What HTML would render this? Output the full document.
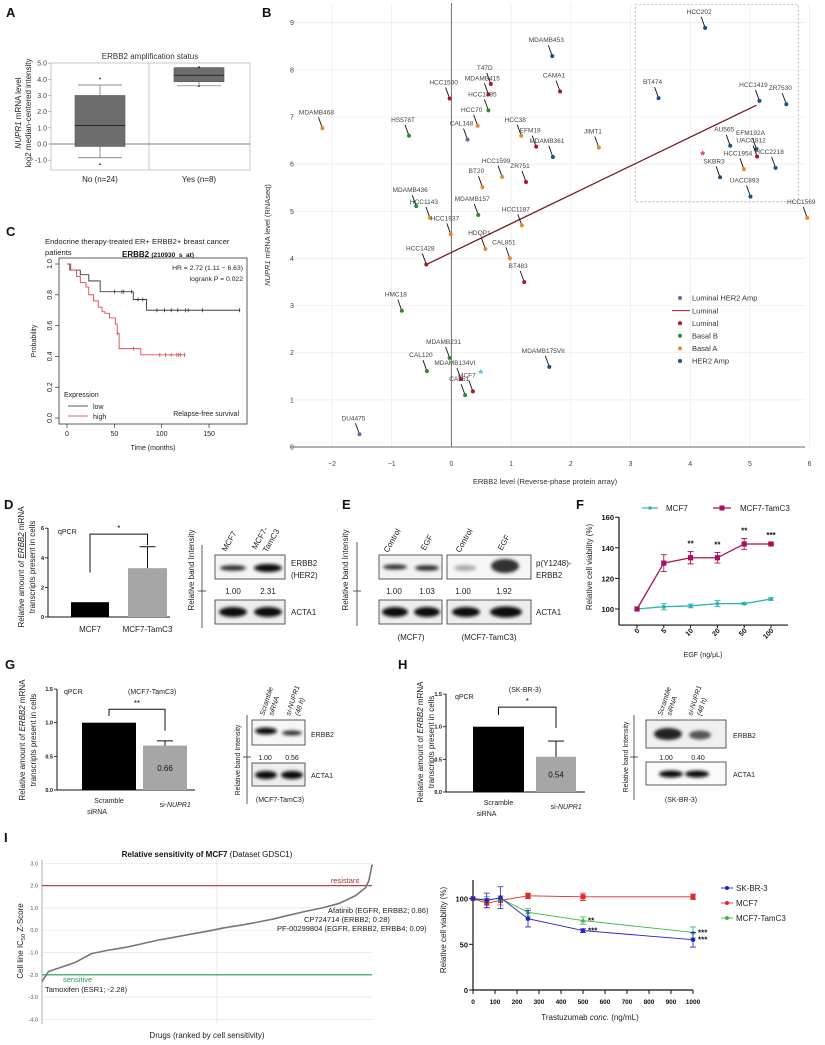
<!DOCTYPE html>
<html><head><meta charset="utf-8"><style>
html,body{margin:0;padding:0;background:#fff;}
svg{display:block;font-family:"Liberation Sans",sans-serif;}
.lbl{font-size:6.5px;fill:#444;text-anchor:middle;}
.tk{font-size:7px;fill:#444;}
.pl{font-size:13px;font-weight:bold;fill:#111;}
.s8{font-size:8px;fill:#222;}
.s7{font-size:7px;fill:#222;}
</style></head><body>
<svg id="fig" width="825" height="1045" viewBox="0 0 825 1045">
<defs><filter id="blur" x="-30%" y="-80%" width="160%" height="260%"><feGaussianBlur stdDeviation="1.6"/></filter></defs>

<!-- Panel labels -->
<text class="pl" x="6" y="17">A</text>
<text class="pl" x="262" y="17">B</text>
<text class="pl" x="6" y="236">C</text>
<text class="pl" x="4" y="509">D</text>
<text class="pl" x="342" y="509">E</text>
<text class="pl" x="576" y="509">F</text>
<text class="pl" x="5" y="669">G</text>
<text class="pl" x="398" y="669">H</text>
<text class="pl" x="4" y="842">I</text>

<!-- Panel A static -->
<text x="150" y="59" text-anchor="middle" style="font-size:8px;fill:#333">ERBB2 amplification status</text>
<rect x="51" y="63" width="199" height="107" fill="none" stroke="#bbb" stroke-width="0.8"/>
<line x1="149" y1="63" x2="149" y2="170" stroke="#bbb" stroke-width="0.8"/>
<text transform="translate(21,113) rotate(-90)" text-anchor="middle" style="font-size:8px;fill:#222"><tspan font-style="italic">NUPR1</tspan> mRNA level</text>
<text transform="translate(31,113) rotate(-90)" text-anchor="middle" style="font-size:8px;fill:#222">log2 median-centered intensity</text>
<g id="gA"></g>

<!-- Panel C static -->
<text x="45" y="244" style="font-size:7.6px;fill:#222">Endocrine therapy-treated ER+ ERBB2+ breast cancer</text>
<text x="45" y="255" style="font-size:7.6px;fill:#222">patients</text>
<text x="122" y="257" style="font-size:8px;font-weight:bold;fill:#111">ERBB2 <tspan style="font-size:6.5px">(210930_s_at)</tspan></text>
<rect x="59" y="258" width="188" height="166" fill="none" stroke="#333" stroke-width="0.8"/>
<text x="243" y="270" text-anchor="end" style="font-size:6.8px;fill:#222">HR = 2.72 (1.11 − 6.63)</text>
<text x="243" y="281" text-anchor="end" style="font-size:6.8px;fill:#222">logrank P = 0.022</text>
<text x="64" y="397" style="font-size:7px;fill:#222">Expression</text>
<line x1="68" y1="406" x2="88" y2="406" stroke="#222" stroke-width="0.8"/>
<text x="93" y="409" style="font-size:7px;fill:#222">low</text>
<line x1="68" y1="416" x2="88" y2="416" stroke="#e03030" stroke-width="0.8"/>
<text x="93" y="419" style="font-size:7px;fill:#222">high</text>
<text x="239" y="416" text-anchor="end" style="font-size:7px;fill:#222">Relapse-free survival</text>
<text transform="translate(36,341) rotate(-90)" text-anchor="middle" style="font-size:7px;fill:#222">Probability</text>
<text x="153" y="450" text-anchor="middle" style="font-size:7px;fill:#222">Time (months)</text>
<g id="gC"></g>

<!-- Panel B static -->
<g id="gB"></g>
<text transform="translate(270,235) rotate(-90)" text-anchor="middle" style="font-size:7.5px;fill:#333"><tspan font-style="italic">NUPR1</tspan> mRNA level (RNAseq)</text>
<text x="545" y="484" text-anchor="middle" style="font-size:7.5px;fill:#333">ERBB2 level (Reverse-phase protein array)</text>

<!-- Panel D static -->
<text transform="translate(24,567) rotate(-90)" text-anchor="middle" class="s8">Relative amount of <tspan font-style="italic" text-decoration="underline">ERBB2</tspan> mRNA</text>
<text transform="translate(35,567) rotate(-90)" text-anchor="middle" class="s8">transcripts present in cells</text>
<text x="58" y="534" class="s7">qPCR</text>
<g id="gD"></g>
<!-- D blot -->
<text transform="translate(194,570) rotate(-90)" text-anchor="middle" class="s8">Relative band Intensity</text>
<line x1="202" y1="545" x2="202" y2="628" stroke="#333" stroke-width="0.8"/>
<line x1="198" y1="591" x2="206" y2="591" stroke="#333" stroke-width="0.8"/>
<text transform="translate(226,552) rotate(-60)" class="s8">MCF7</text>
<text transform="translate(256,550) rotate(-60)" class="s8">MCF7-</text>
<text transform="translate(267,553) rotate(-60)" class="s8">TamC3</text>
<rect x="215" y="555" width="70" height="24" fill="#f4f4f4" stroke="#333" stroke-width="0.8"/>
<ellipse cx="233" cy="568" rx="13" ry="2.8" fill="#333" filter="url(#blur)"/>
<ellipse cx="268" cy="568" rx="14" ry="4" fill="#111" filter="url(#blur)"/>
<text x="233" y="594" text-anchor="middle" class="s8">1.00</text>
<text x="268" y="594" text-anchor="middle" class="s8">2.31</text>
<rect x="215" y="600" width="70" height="24" fill="#eee" stroke="#333" stroke-width="0.8"/>
<ellipse cx="233" cy="612" rx="14" ry="5" fill="#111" filter="url(#blur)"/>
<ellipse cx="268" cy="612" rx="14" ry="5" fill="#111" filter="url(#blur)"/>
<text x="291" y="566" class="s8">ERBB2</text>
<text x="291" y="578" class="s8">(HER2)</text>
<text x="291" y="615" class="s8">ACTA1</text>

<!-- Panel E -->
<text transform="translate(348,570) rotate(-90)" text-anchor="middle" class="s8">Relative band Intensity</text>
<line x1="357" y1="542" x2="357" y2="626" stroke="#333" stroke-width="0.8"/>
<line x1="353" y1="591" x2="361" y2="591" stroke="#333" stroke-width="0.8"/>
<text transform="translate(388,553) rotate(-60)" class="s8">Control</text>
<text transform="translate(425,551) rotate(-60)" class="s8">EGF</text>
<text transform="translate(460,553) rotate(-60)" class="s8">Control</text>
<text transform="translate(502,551) rotate(-60)" class="s8">EGF</text>
<rect x="379" y="555" width="63" height="24" fill="#f2f2f2" stroke="#333" stroke-width="0.8"/>
<ellipse cx="395" cy="567" rx="12" ry="2.6" fill="#333" filter="url(#blur)"/>
<ellipse cx="427" cy="568" rx="12" ry="2.8" fill="#333" filter="url(#blur)"/>
<rect x="447" y="555" width="84" height="24" fill="#f6f6f6" stroke="#333" stroke-width="0.8"/>
<ellipse cx="465" cy="568" rx="11" ry="3" fill="#aaa" filter="url(#blur)"/>
<ellipse cx="505" cy="566" rx="14" ry="7" fill="#333" filter="url(#blur)"/>
<text x="394" y="594" text-anchor="middle" class="s8">1.00</text>
<text x="427" y="594" text-anchor="middle" class="s8">1.03</text>
<text x="463" y="594" text-anchor="middle" class="s8">1.00</text>
<text x="504" y="594" text-anchor="middle" class="s8">1.92</text>
<rect x="379" y="600" width="63" height="24" fill="#eee" stroke="#333" stroke-width="0.8"/>
<ellipse cx="395" cy="612" rx="13" ry="5" fill="#111" filter="url(#blur)"/>
<ellipse cx="427" cy="612" rx="13" ry="5" fill="#111" filter="url(#blur)"/>
<rect x="447" y="600" width="84" height="24" fill="#eee" stroke="#333" stroke-width="0.8"/>
<ellipse cx="466" cy="612" rx="14" ry="5" fill="#111" filter="url(#blur)"/>
<ellipse cx="506" cy="612" rx="16" ry="5.5" fill="#111" filter="url(#blur)"/>
<text x="536" y="566" class="s8">p(Y1248)-</text>
<text x="536" y="578" class="s8">ERBB2</text>
<text x="536" y="615" class="s8">ACTA1</text>
<text x="411" y="640" text-anchor="middle" class="s8">(MCF7)</text>
<text x="489" y="640" text-anchor="middle" class="s8">(MCF7-TamC3)</text>

<!-- Panel F -->
<g id="gF"></g>
<text transform="translate(592,567) rotate(-90)" text-anchor="middle" class="s8">Relative cell viability (%)</text>
<text x="703" y="657" text-anchor="middle" class="s7">EGF (ng/μL)</text>
<line x1="642" y1="508" x2="658" y2="508" stroke="#2bb5b0" stroke-width="1.2"/>
<circle cx="650" cy="508" r="1.8" fill="#2bb5b0"/>
<text x="666" y="511" class="s8">MCF7</text>
<line x1="713" y1="508" x2="731" y2="508" stroke="#a8125a" stroke-width="1.2"/>
<rect x="719.5" y="505.5" width="5" height="5" fill="#a8125a"/>
<text x="740" y="511" class="s8">MCF7-TamC3</text>

<!-- Panel G -->
<text transform="translate(25,740) rotate(-90)" text-anchor="middle" class="s8">Relative amount of <tspan font-style="italic">ERBB2</tspan> mRNA</text>
<text transform="translate(36,740) rotate(-90)" text-anchor="middle" class="s8">transcripts present in cells</text>
<text x="64" y="694" class="s7">qPCR</text>
<text x="128" y="694" class="s7">(MCF7-TamC3)</text>
<g id="gG"></g>
<text transform="translate(240,760) rotate(-90)" text-anchor="middle" class="s7">Relative band Intensity</text>
<line x1="247" y1="715" x2="247" y2="804" stroke="#333" stroke-width="0.8"/>
<line x1="243" y1="757" x2="251" y2="757" stroke="#333" stroke-width="0.8"/>
<text transform="translate(264,716) rotate(-72)" class="s7" font-style="italic">Scramble</text>
<text transform="translate(273,716) rotate(-72)" class="s7" font-style="italic">siRNA</text>
<text transform="translate(290,716) rotate(-72)" class="s7" font-style="italic">si-NUPR1</text>
<text transform="translate(299,716) rotate(-72)" class="s7" font-style="italic">(48 h)</text>
<rect x="252" y="720" width="53" height="25" fill="#f6f6f6" stroke="#333" stroke-width="0.8"/>
<ellipse cx="266" cy="731" rx="11" ry="3.5" fill="#111" filter="url(#blur)"/>
<ellipse cx="292" cy="733" rx="10" ry="2.5" fill="#333" filter="url(#blur)"/>
<text x="265" y="760" text-anchor="middle" class="s7">1.00</text>
<text x="292" y="760" text-anchor="middle" class="s7">0.56</text>
<rect x="252" y="763" width="53" height="23" fill="#eee" stroke="#333" stroke-width="0.8"/>
<ellipse cx="266" cy="775" rx="11" ry="4" fill="#111" filter="url(#blur)"/>
<ellipse cx="292" cy="775" rx="11" ry="4" fill="#111" filter="url(#blur)"/>
<text x="311" y="737" class="s7">ERBB2</text>
<text x="311" y="778" class="s7">ACTA1</text>
<text x="280" y="802" text-anchor="middle" class="s7">(MCF7-TamC3)</text>

<!-- Panel H -->
<text transform="translate(423,742) rotate(-90)" text-anchor="middle" class="s8">Relative amount of <tspan font-style="italic">ERBB2</tspan> mRNA</text>
<text transform="translate(434,742) rotate(-90)" text-anchor="middle" class="s8">transcripts present in cells</text>
<text x="455" y="699" class="s7">qPCR</text>
<text x="525" y="692" text-anchor="middle" class="s7">(SK-BR-3)</text>
<g id="gH"></g>
<text transform="translate(628,757) rotate(-90)" text-anchor="middle" class="s7">Relative band Intensity</text>
<line x1="634" y1="715" x2="634" y2="800" stroke="#333" stroke-width="0.8"/>
<line x1="630" y1="757" x2="638" y2="757" stroke="#333" stroke-width="0.8"/>
<text transform="translate(662,716) rotate(-72)" class="s7" font-style="italic">Scramble</text>
<text transform="translate(671,716) rotate(-72)" class="s7" font-style="italic">siRNA</text>
<text transform="translate(692,716) rotate(-72)" class="s7" font-style="italic">si-NUPR1</text>
<text transform="translate(701,716) rotate(-72)" class="s7" font-style="italic">(48 h)</text>
<rect x="646" y="720" width="80" height="28" fill="#f0f0f0" stroke="#333" stroke-width="0.8"/>
<ellipse cx="668" cy="734" rx="14" ry="6" fill="#222" filter="url(#blur)"/>
<ellipse cx="700" cy="735" rx="11" ry="4.5" fill="#555" filter="url(#blur)"/>
<text x="666" y="760" text-anchor="middle" class="s7">1.00</text>
<text x="698" y="760" text-anchor="middle" class="s7">0.40</text>
<rect x="646" y="762" width="80" height="23" fill="#fafafa" stroke="#333" stroke-width="0.8"/>
<ellipse cx="671" cy="774" rx="12" ry="3.5" fill="#111" filter="url(#blur)"/>
<ellipse cx="697" cy="774" rx="12" ry="3.5" fill="#111" filter="url(#blur)"/>
<text x="733" y="738" class="s7">ERBB2</text>
<text x="733" y="777" class="s7">ACTA1</text>
<text x="681" y="802" text-anchor="middle" class="s7">(SK-BR-3)</text>

<!-- Panel I left -->
<text x="207" y="857" text-anchor="middle" style="font-size:8px;fill:#111"><tspan font-weight="bold">Relative sensitivity of MCF7</tspan>  (Dataset GDSC1)</text>
<g id="gI"></g>
<text transform="translate(23,941) rotate(-90)" text-anchor="middle" class="s8">Cell line IC<tspan style="font-size:5.5px" dy="2">50</tspan><tspan dy="-2"> Z-Score</tspan></text>
<text x="207" y="1038" text-anchor="middle" class="s8">Drugs (ranked by cell sensitivity)</text>
<text x="345" y="883" text-anchor="middle" style="font-size:7.5px;fill:#b03030">resistant</text>
<text x="63" y="982" style="font-size:7.5px;fill:#2aa05a">sensitive</text>
<text x="45" y="992" style="font-size:7.5px;fill:#222">Tamoxifen (ESR1; -2.28)</text>
<text x="328" y="913" style="font-size:7.5px;fill:#222">Afatinib (EGFR, ERBB2; 0.86)</text>
<text x="304" y="922" style="font-size:7.5px;fill:#222">CP724714 (ERBB2; 0.28)</text>
<text x="277" y="931" style="font-size:7.5px;fill:#222">PF-00299804 (EGFR, ERBB2, ERBB4; 0.09)</text>

<!-- Panel I right -->
<g id="gT"></g>
<text transform="translate(446,930) rotate(-90)" text-anchor="middle" class="s8">Relative cell viability (%)</text>
<text x="590" y="1020" text-anchor="middle" class="s8">Trastuzumab <tspan font-style="italic">conc.</tspan> (ng/mL)</text>
</svg>

<script>
// ---------- DATA ----------
// Panel A (box plot)
const boxCats = ['No (n=24)', 'Yes (n=8)'];
const boxQ1 = [-0.15, 3.85];
const boxMed = [1.15, 4.25];
const boxQ3 = [3.0, 4.72];
const boxLo = [-0.85, 3.6];
const boxHi = [3.65, 4.72];
const boxOutHi = [4.05, 4.75];
const boxOutLo = [-1.25, 3.58];
const boxTicks = [5, 4, 3, 2, 1, 0, -1];

// Panel C (Kaplan-Meier)
const kmLowT = [0, 3, 14, 23, 35, 70, 84, 183];
const kmLowS = [1.0, 0.96, 0.93, 0.89, 0.82, 0.77, 0.70, 0.70];
const kmLowCens = [50, 58, 60, 68, 75, 80, 95, 103, 110, 117, 125, 128, 143, 182];
const kmHighT = [0, 4, 10, 14, 20, 23, 28, 33, 37, 40, 45, 51, 53, 55, 78, 125];
const kmHighS = [1.0, 0.96, 0.92, 0.88, 0.85, 0.80, 0.76, 0.72, 0.69, 0.68, 0.65, 0.61, 0.55, 0.45, 0.41, 0.41];
const kmHighCens = [53, 70, 98, 104, 110, 116, 118, 120, 124];
const kmXTicks = [0, 50, 100, 150];
const kmYTicks = [0, 0.2, 0.4, 0.6, 0.8, 1.0];

// Panel B (scatter)
const cellLines = ['HCC202','MDAMB453','T47D','MDAMB415','CAMA1','HCC1500','HCC1395','MDAMB468','HS578T','HCC70','CAL148','HCC38','EFM19','MDAMB361','JIMT1','BT474','HCC1419','ZR7530','AU565','EFM192A','UACC812','HCC2218','HCC1954','SKBR3','UACC893','HCC1569','HCC1599','ZR751','BT20','MDAMB436','HCC1143','MDAMB157','HCC1937','HCC1187','HDQP1','CAL851','HCC1428','BT483','HMC18','MDAMB231','CAL120','MDAMB134VI','CAL51','MCF7','MDAMB175VII','DU4475'];
const erbb2Vals = [4.25,1.69,0.66,0.62,1.82,-0.03,0.62,-2.16,-0.71,0.44,0.27,1.17,1.42,1.70,2.47,3.47,5.16,5.61,4.67,5.11,5.12,5.43,4.90,4.50,5.01,5.96,0.85,1.25,0.52,-0.59,-0.36,0.45,-0.01,1.18,0.57,0.98,-0.42,1.22,-0.83,-0.03,-0.41,0.16,0.23,0.36,1.64,-1.54];
const nuprVals = [8.89,8.29,7.70,7.48,7.54,7.39,7.14,6.76,6.60,6.81,6.52,6.60,6.37,6.15,6.35,7.40,7.34,7.27,6.39,6.32,6.16,5.92,5.89,5.72,5.31,4.86,5.73,5.62,5.51,5.11,4.86,4.92,4.51,4.70,4.20,4.00,3.87,3.50,2.89,1.89,1.61,1.44,1.10,1.18,1.70,0.27];
const subtypes = ['H','H','L','L','L','L','B','A','B','A','P','A','L','H','A','H','H','H','H','H','L','H','A','H','H','A','A','L','A','B','A','B','A','A','A','A','L','L','B','B','B','L','B','L','H','P'];
const regX = [-0.42, 5.11];
const regY = [3.87, 7.25];
const starsX = [4.21, 0.49];
const starsY = [6.18, 1.55];
const bXTicks = [-2,-1,0,1,2,3,4,5,6];
const bYTicks = [0,1,2,3,4,5,6,7,8,9];
const legendNames = ['Luminal HER2 Amp','Luminal','Luminal','Basal B','Basal A','HER2 Amp'];

// Panel D
const dCats = ['MCF7', 'MCF7-TamC3'];
const dVals = [1.0, 3.3];
const dErr = [0, 1.45];
const dTicks = [0, 2, 4, 6];

// Panel F
const fDoses = ['0','5','10','20','50','100'];
const fMcf7 = [100, 101.5, 102, 103.5, 103.5, 106.5];
const fMcf7Err = [0, 2, 1.2, 2, 0.5, 0.8];
const fTam = [100, 130, 133.5, 133.5, 142.5, 142.5];
const fTamErr = [0, 5.5, 4, 3.5, 3.5, 0.5];
const fStars = ['', '', '**', '**', '**', '***'];
const fTicks = [100, 120, 140, 160];

// Panel G / H
const ghCats = ['Scramble siRNA', 'si-NUPR1'];
const gVals = [1.0, 0.66];
const gErr = [0, 0.07];
const hVals = [1.0, 0.54];
const hErr = [0, 0.24];
const ghTicks = [0, 0.5, 1.0, 1.5];

// Panel I left
const iRank = [0, 0.02, 0.05, 0.1, 0.15, 0.2, 0.25, 0.3, 0.35, 0.4, 0.45, 0.5, 0.55, 0.6, 0.65, 0.7, 0.75, 0.8, 0.85, 0.9, 0.95, 0.98, 0.99, 1.0];
const iZ = [-2.3, -1.85, -1.7, -1.45, -1.05, -0.9, -0.78, -0.62, -0.45, -0.32, -0.18, -0.05, 0.1, 0.22, 0.35, 0.5, 0.68, 0.85, 1.0, 1.2, 1.55, 1.9, 2.2, 2.9];
const iTicks = [3, 2, 1, 0, -1, -2, -3, -4];

// Panel I right
const tConc = [0, 62.5, 125, 250, 500, 1000];
const tSkbr3 = [100, 98, 101, 78, 65, 55];
const tSkbr3Err = [0, 8, 12, 9, 2, 8];
const tMcf7 = [100, 95, 98, 103, 102, 102];
const tMcf7Err = [0, 5, 5, 3, 4, 3];
const tTam = [100, 99, 100, 85, 76, 63];
const tTamErr = [0, 3, 3, 4, 4, 6];
const tXTicks = [0,100,200,300,400,500,600,700,800,900,1000];
const tYTicks = [0, 50, 100];

// ---------- HELPERS ----------
const NS = 'http://www.w3.org/2000/svg';
function mk(tag, attrs, parent) {
  const e = document.createElementNS(NS, tag);
  for (const k in attrs) e.setAttribute(k, attrs[k]);
  parent.appendChild(e);
  return e;
}
function txt(parent, x, y, s, attrs) {
  const a = Object.assign({x: x, y: y}, attrs || {});
  const t = mk('text', a, parent);
  t.textContent = s;
  return t;
}

// ---------- PANEL A ----------
(function(){
  const g = document.getElementById('gA');
  const yA = v => 144 - v * 16.17;
  const cx = [100, 199];
  boxTicks.forEach(v => {
    const t = txt(g, 47, yA(v) + 2.5, v.toFixed(1), {'text-anchor':'end', style:'font-size:7px;fill:#444'});
    
    
    const l = mk('line', {x1:48, x2:51, y1:yA(v), y2:yA(v), stroke:'#999', 'stroke-width':0.6}, g);
    
    
  });
  const zl = mk('line', {x1:51, x2:250, y1:yA(0), y2:yA(0), stroke:'#555', 'stroke-width':0.8}, g);
  
  
  boxCats.forEach((c, i) => {
    const w = i === 0 ? 25 : 25;
    const wl = mk('line', {x1:cx[i], x2:cx[i], y1:yA(boxHi[i]), y2:yA(boxLo[i]), stroke:'#666', 'stroke-width':0.7}, g);
    
    
    [boxHi[i], boxLo[i]].forEach(v => {
      const cap = mk('line', {x1:cx[i]-22, x2:cx[i]+22, y1:yA(v), y2:yA(v), stroke:'#666', 'stroke-width':0.7}, g);
      
      
    });
    const r = mk('rect', {x:cx[i]-w, y:yA(boxQ3[i]), width:2*w, height:yA(boxQ1[i])-yA(boxQ3[i]), fill:'#6d6d6d', stroke:'#555', 'stroke-width':0.6}, g);
    
    
    const m = mk('line', {x1:cx[i]-w, x2:cx[i]+w, y1:yA(boxMed[i]), y2:yA(boxMed[i]), stroke:'#222', 'stroke-width':0.9}, g);
    
    
    [boxOutHi[i], boxOutLo[i]].forEach(v => {
      const o = mk('circle', {cx:cx[i], cy:yA(v), r:0.9, fill:'#222'}, g);
      
      
    });
    const t = txt(g, cx[i], 182, c, {'text-anchor':'middle', style:'font-size:8px;fill:#222'});
    
    
  });
})();

// ---------- PANEL C ----------
(function(){
  const g = document.getElementById('gC');
  const xC = t => 67 + t * 0.947;
  const yC = s => 418 - s * 154;
  kmXTicks.forEach(v => {
    const l = mk('line', {x1:xC(v), x2:xC(v), y1:424, y2:428, stroke:'#333', 'stroke-width':0.7}, g);
    
    
    const t = txt(g, xC(v), 436, String(v), {'text-anchor':'middle', style:'font-size:7px;fill:#222'});
    
    
  });
  kmYTicks.forEach(v => {
    const l = mk('line', {x1:55, x2:59, y1:yC(v), y2:yC(v), stroke:'#333', 'stroke-width':0.7}, g);
    
    
    const t = txt(g, 0, 0, v.toFixed(1), {'text-anchor':'middle', transform:'translate(52,' + yC(v) + ') rotate(-90)', style:'font-size:7px;fill:#222'});
    
    
  });
  function step(T, S, endT) {
    let d = 'M' + xC(T[0]) + ',' + yC(S[0]);
    for (let i = 1; i < T.length; i++) {
      d += ' H' + xC(T[i]) + ' V' + yC(S[i]);
    }
    return d;
  }
  const lowP = mk('path', {d:step(kmLowT, kmLowS), fill:'none', stroke:'#222', 'stroke-width':0.8}, g);
  
  
  const highP = mk('path', {d:step(kmHighT, kmHighS), fill:'none', stroke:'#e03030', 'stroke-width':0.8}, g);
  
  
  function survAt(T, S, t) { let s = S[0]; for (let i = 0; i < T.length; i++) if (T[i] <= t) s = S[i]; return s; }
  kmLowCens.forEach(t => {
    const c = mk('line', {x1:xC(t), x2:xC(t), y1:yC(survAt(kmLowT, kmLowS, t))-2, y2:yC(survAt(kmLowT, kmLowS, t))+2, stroke:'#222', 'stroke-width':0.7}, g);
    
    
  });
  kmHighCens.forEach(t => {
    const c = mk('line', {x1:xC(t), x2:xC(t), y1:yC(survAt(kmHighT, kmHighS, t))-2, y2:yC(survAt(kmHighT, kmHighS, t))+2, stroke:'#e03030', 'stroke-width':0.7}, g);
    
    
  });
})();

// ---------- PANEL B ----------
(function(){
  const g = document.getElementById('gB');
  const xB = v => 451.4 + v * 59.7;
  const yB = v => 447 - v * 47.15;
  const colors = {P:'#7e5fa6', L:'#b3122b', B:'#2e8a35', A:'#e68a2e', H:'#1c5180'};
  bXTicks.forEach(v => {
    const l = mk('line', {x1:xB(v), x2:xB(v), y1:3, y2:447, stroke:'#ececec', 'stroke-width':0.7}, g);
    
    
    const t = txt(g, xB(v), 466, String(v).replace('-', '−'), {'text-anchor':'middle', class:'tk'});
    
    
  });
  bYTicks.forEach(v => {
    const l = mk('line', {x1:290, x2:805, y1:yB(v), y2:yB(v), stroke:'#ececec', 'stroke-width':0.7}, g);
    
    
    const t = txt(g, 292, yB(v) + 2.5, String(v), {'text-anchor':'middle', class:'tk'});
    
    
  });
  const ax = mk('line', {x1:xB(0), x2:xB(0), y1:3, y2:447, stroke:'#666', 'stroke-width':0.9}, g);
  
  
  const ay = mk('line', {x1:290, x2:805, y1:yB(0), y2:yB(0), stroke:'#666', 'stroke-width':0.9}, g);
  
  
  const box = mk('rect', {x:xB(3.08), y:yB(9.38), width:xB(5.81)-xB(3.08), height:yB(5.2)-yB(9.38), fill:'none', stroke:'#aaa', 'stroke-width':0.8, 'stroke-dasharray':'2,2'}, g);
  
  
  const reg = mk('line', {x1:xB(regX[0]), y1:yB(regY[0]), x2:xB(regX[1]), y2:yB(regY[1]), stroke:'#7a1a22', 'stroke-width':1.3}, g);
  
  
  cellLines.forEach((n, i) => {
    const px = xB(erbb2Vals[i]), py = yB(nuprVals[i]);
    const ld = mk('line', {x1:px-4, y1:py-11, x2:px, y2:py, stroke:'#111', 'stroke-width':0.9}, g);
    
    
    const c = mk('circle', {cx:px, cy:py, r:2, fill:colors[subtypes[i]]}, g);
    
    
    const t = txt(g, px - 6, py - 14, n, {class:'lbl'});
    
    
  });
  const starCol = ['#e0304a', '#3cc6d6'];
  starsX.forEach((v, i) => {
    const s = txt(g, xB(v), yB(starsY[i]) + 4, '*', {'text-anchor':'middle', style:'font-size:12px;font-weight:bold;fill:' + starCol[i]});
    
    
  });
  // legend
  const legCol = ['#7e5fa6', null, '#b3122b', '#2e8a35', '#e68a2e', '#1c5180'];
  legendNames.forEach((n, i) => {
    const y = 298 + i * 12.6;
    if (legCol[i]) {
      const m = mk('circle', {cx:680, cy:y, r:2, fill:legCol[i]}, g);
      
      
    } else {
      const m = mk('line', {x1:672, x2:690, y1:y, y2:y, stroke:'#b3122b', 'stroke-width':1}, g);
      
      
    }
    const t = txt(g, 692, y + 2.7, n, {style:'font-size:7.5px;fill:#333'});
    
    
  });
})();

// ---------- BAR CHART HELPER (D, G, H) ----------
function barChart(gid, opts, vals, errs, cats, ticks, prefix) {
  const g = document.getElementById(gid);
  const y = v => opts.y0 - v * opts.k;
  const ya = mk('line', {x1:opts.ax, x2:opts.ax, y1:y(ticks[ticks.length-1]), y2:opts.y0, stroke:'#111', 'stroke-width':1}, g);
  
  
  const xa = mk('line', {x1:opts.ax, x2:opts.axEnd, y1:opts.y0, y2:opts.y0, stroke:'#111', 'stroke-width':1}, g);
  
  
  ticks.forEach(v => {
    const l = mk('line', {x1:opts.ax-3, x2:opts.ax, y1:y(v), y2:y(v), stroke:'#111', 'stroke-width':0.8}, g);
    
    
    const t = txt(g, opts.ax - 4, y(v) + 2, String(v % 1 ? v.toFixed(1) : (opts.dec ? v.toFixed(1) : v)), {'text-anchor':'end', style:'font-size:5.5px;fill:#111;font-weight:bold'});
    
    
  });
  const fills = ['#000', '#a6a6a6'];
  vals.forEach((v, i) => {
    const x0 = opts.bx[i];
    const r = mk('rect', {x:x0, y:y(v), width:opts.bw[i], height:opts.y0 - y(v), fill:fills[i]}, g);
    
    
    const cx = x0 + opts.bw[i] / 2;
    if (errs[i] > 0) {
      const e = mk('line', {x1:cx, x2:cx, y1:y(v), y2:y(v + errs[i]), stroke:'#111', 'stroke-width':1}, g);
      
      
      const ec = mk('line', {x1:cx-8, x2:cx+8, y1:y(v + errs[i]), y2:y(v + errs[i]), stroke:'#111', 'stroke-width':1}, g);
      
      
    }
    if (opts.showVal && i === 1) {
      const t = txt(g, cx, y(v / 2) + 3, v.toFixed(2), {'text-anchor':'middle', style:'font-size:8px;fill:#111'});
      
      
    }
  });
  const bl = opts.bx[0] + opts.bw[0] / 2, br = opts.bx[1] + opts.bw[1] / 2;
  const by = y(opts.brY);
  const brk = mk('path', {d:'M' + bl + ',' + y(opts.brL) + ' V' + by + ' H' + br + ' V' + y(opts.brR), fill:'none', stroke:'#111', 'stroke-width':1}, g);
  
  
  const st = txt(g, (bl + br) / 2, by - 3, opts.star, {'text-anchor':'middle', style:'font-size:8px;fill:#111'});
  
  
  cats.forEach((c, i) => {
    const cx = opts.bx[i] + opts.bw[i] / 2;
    if (opts.twoLine && i === 0) {
      const t1 = txt(g, cx, opts.y0 + 13, 'Scramble', {'text-anchor':'middle', class:'s7'});
      
      
      const t2 = txt(g, cx - 12, opts.y0 + 24, 'siRNA', {'text-anchor':'middle', class:'s7'});
      
      
    } else if (opts.twoLine) {
      const t = txt(g, cx + 2, opts.y0 + 17, 'si-', {'text-anchor':'end', class:'s7'});
      
      
      const t2 = txt(g, cx + 2, opts.y0 + 17, 'NUPR1', {'text-anchor':'start', class:'s7', 'font-style':'italic'});
      
      
    } else {
      const t = txt(g, cx, opts.y0 + 15, c, {'text-anchor':'middle', class:'s8'});
      
      
    }
  });
}
barChart('gD', {ax:48, axEnd:170, y0:617, k:14.8, bx:[71,128], bw:[38,39], brY:5.6, brL:3.0, brR:4.85, star:'*'}, dVals, dErr, dCats, dTicks, 'd');
barChart('gG', {ax:57, axEnd:195, y0:790, k:67.3, bx:[82,143], bw:[54,44], brY:1.2, brL:1.1, brR:0.88, star:'**', showVal:true, twoLine:true, dec:true}, gVals, gErr, ghCats, ghTicks, 'g');
barChart('gH', {ax:446, axEnd:585, y0:792, k:65.3, bx:[473,536], bw:[51,40], brY:1.3, brL:1.18, brR:0.98, star:'*', showVal:true, twoLine:true, dec:true}, hVals, hErr, ghCats, ghTicks, 'h');

// ---------- PANEL F ----------
(function(){
  const g = document.getElementById('gF');
  const xF = i => 637 + i * 26.8;
  const yF = v => 609 - (v - 100) * 1.53;
  const ya = mk('line', {x1:619, x2:619, y1:yF(160), y2:yF(89.5), stroke:'#111', 'stroke-width':1.2}, g);
  
  
  const xa = mk('line', {x1:619, x2:788, y1:yF(89.5), y2:yF(89.5), stroke:'#111', 'stroke-width':1.2}, g);
  
  
  fTicks.forEach(v => {
    const l = mk('line', {x1:615, x2:619, y1:yF(v), y2:yF(v), stroke:'#111', 'stroke-width':1}, g);
    
    
    const t = txt(g, 614, yF(v) + 3, String(v), {'text-anchor':'end', style:'font-size:7.5px;font-weight:bold;fill:#111'});
    
    
  });
  fDoses.forEach((d, i) => {
    const l = mk('line', {x1:xF(i), x2:xF(i), y1:yF(89.5), y2:yF(89.5)+3, stroke:'#111', 'stroke-width':1}, g);
    
    
    const t = txt(g, 0, 0, d, {'text-anchor':'end', transform:'translate(' + (xF(i)+3) + ',' + (yF(89.5)+6) + ') rotate(-45)', style:'font-size:7px;font-weight:bold;fill:#111'});
    
    
  });
  function series(vals, errs, col, name, sq) {
    const p = mk('polyline', {points:vals.map((v, i) => xF(i) + ',' + yF(v)).join(' '), fill:'none', stroke:col, 'stroke-width':1.3}, g);
    
    
    vals.forEach((v, i) => {
      if (errs[i] > 0) {
        const e = mk('path', {d:'M' + xF(i) + ',' + yF(v - errs[i]) + ' V' + yF(v + errs[i]) + ' M' + (xF(i)-3) + ',' + yF(v + errs[i]) + ' h6 M' + (xF(i)-3) + ',' + yF(v - errs[i]) + ' h6', stroke:col, 'stroke-width':0.9, fill:'none'}, g);
        
        
      }
      const m = sq ? mk('rect', {x:xF(i)-2.6, y:yF(v)-2.6, width:5.2, height:5.2, fill:col}, g) : mk('circle', {cx:xF(i), cy:yF(v), r:2, fill:col}, g);
      
      
    });
  }
  series(fMcf7, fMcf7Err, '#2bb5b0', 'f-mcf7', false);
  series(fTam, fTamErr, '#a8125a', 'f-tamc3', true);
  fStars.forEach((s, i) => {
    if (!s) return;
    const t = txt(g, xF(i), yF(fTam[i] + fTamErr[i]) - 5, s, {'text-anchor':'middle', style:'font-size:8px;font-weight:bold;fill:#111'});
    
    
  });
})();

// ---------- PANEL I LEFT ----------
(function(){
  const g = document.getElementById('gI');
  const xI = r => 42 + r * 330;
  const yI = z => 885.6 - (z - 2) * 22.3;
  iTicks.forEach(v => {
    const l = mk('line', {x1:42, x2:372, y1:yI(v), y2:yI(v), stroke:'#e6e6e6', 'stroke-width':0.7}, g);
    
    
    const t = txt(g, 38, yI(v) + 2, v.toFixed(1), {'text-anchor':'end', style:'font-size:5.5px;fill:#555'});
    
    
  });
  const vg = mk('line', {x1:217, x2:217, y1:860, y2:1024, stroke:'#e0e0e0', 'stroke-width':0.7}, g);
  
  
  const ya = mk('line', {x1:42, x2:42, y1:860, y2:1024, stroke:'#888', 'stroke-width':0.7}, g);
  
  
  const rl = mk('line', {x1:42, x2:372, y1:yI(2), y2:yI(2), stroke:'#c04048', 'stroke-width':1.2}, g);
  
  
  const sl = mk('line', {x1:42, x2:372, y1:yI(-2), y2:yI(-2), stroke:'#22a04a', 'stroke-width':1.2}, g);
  
  
  const c = mk('polyline', {points:iRank.map((r, i) => xI(r) + ',' + yI(iZ[i])).join(' '), fill:'none', stroke:'#777', 'stroke-width':1.6}, g);
  
  
  const last = iZ.length - 1;
  const d = mk('circle', {cx:xI(iRank[last]), cy:yI(iZ[last]), r:1, fill:'#d04040'}, g);
  
  
})();

// ---------- PANEL I RIGHT ----------
(function(){
  const g = document.getElementById('gT');
  const xT = c => 473 + c * 0.22;
  const yT = v => 990 - v * 0.914;
  const ya = mk('line', {x1:473, x2:473, y1:880, y2:990, stroke:'#111', 'stroke-width':1.2}, g);
  
  
  const xa = mk('line', {x1:473, x2:693, y1:990, y2:990, stroke:'#111', 'stroke-width':1.2}, g);
  
  
  tYTicks.forEach(v => {
    const l = mk('line', {x1:469, x2:473, y1:yT(v), y2:yT(v), stroke:'#111', 'stroke-width':1}, g);
    
    
    const t = txt(g, 468, yT(v) + 3, String(v), {'text-anchor':'end', style:'font-size:7.5px;font-weight:bold;fill:#111'});
    
    
  });
  tXTicks.forEach(v => {
    const l = mk('line', {x1:xT(v), x2:xT(v), y1:990, y2:994, stroke:'#111', 'stroke-width':1}, g);
    
    
    const t = txt(g, xT(v), 1004, String(v), {'text-anchor':'middle', style:'font-size:6.5px;font-weight:bold;fill:#111'});
    
    
  });
  function series(vals, errs, col, name, shape) {
    const p = mk('polyline', {points:vals.map((v, i) => xT(tConc[i]) + ',' + yT(v)).join(' '), fill:'none', stroke:col, 'stroke-width':0.9}, g);
    
    
    vals.forEach((v, i) => {
      const x = xT(tConc[i]);
      if (errs[i] > 0) {
        const e = mk('path', {d:'M' + x + ',' + yT(v - errs[i]) + ' V' + yT(v + errs[i]) + ' M' + (x-3) + ',' + yT(v + errs[i]) + ' h6 M' + (x-3) + ',' + yT(v - errs[i]) + ' h6', stroke:col, 'stroke-width':0.8, fill:'none'}, g);
        
        
      }
      let m;
      if (shape === 'sq') m = mk('rect', {x:x-2.5, y:yT(v)-2.5, width:5, height:5, fill:col}, g);
      else if (shape === 'tri') m = mk('path', {d:'M' + x + ',' + (yT(v)-2.8) + ' l2.6,4.6 h-5.2 z', fill:col}, g);
      else m = mk('circle', {cx:x, cy:yT(v), r:2.3, fill:col}, g);
      
      
    });
  }
  series(tMcf7, tMcf7Err, '#e02828', 't-mcf7', 'sq');
  series(tTam, tTamErr, '#3cb84a', 't-tamc3', 'tri');
  series(tSkbr3, tSkbr3Err, '#2020d0', 't-skbr3', 'circ');
  const stars = [[4, tTam, '**'], [4, tSkbr3, '***'], [5, tTam, '***'], [5, tSkbr3, '***']];
  stars.forEach(s => {
    const t = txt(g, xT(tConc[s[0]]) + 5, yT(s[1][s[0]]) + 3, s[2], {style:'font-size:8px;font-weight:bold;fill:#111'});
    
    
  });
  const legNames = ['SK-BR-3', 'MCF7', 'MCF7-TamC3'];
  const legCols = ['#2020d0', '#e02828', '#3cb84a'];
  legNames.forEach((n, i) => {
    const y = 888 + i * 15;
    const l = mk('line', {x1:721, x2:733, y1:y, y2:y, stroke:legCols[i], 'stroke-width':0.9}, g);
    
    
    const m = mk('circle', {cx:727, cy:y, r:2, fill:legCols[i]}, g);
    
    
    const t = txt(g, 736, y + 3, n, {class:'s8'});
    
    
  });
})();
</script>
</body></html>
